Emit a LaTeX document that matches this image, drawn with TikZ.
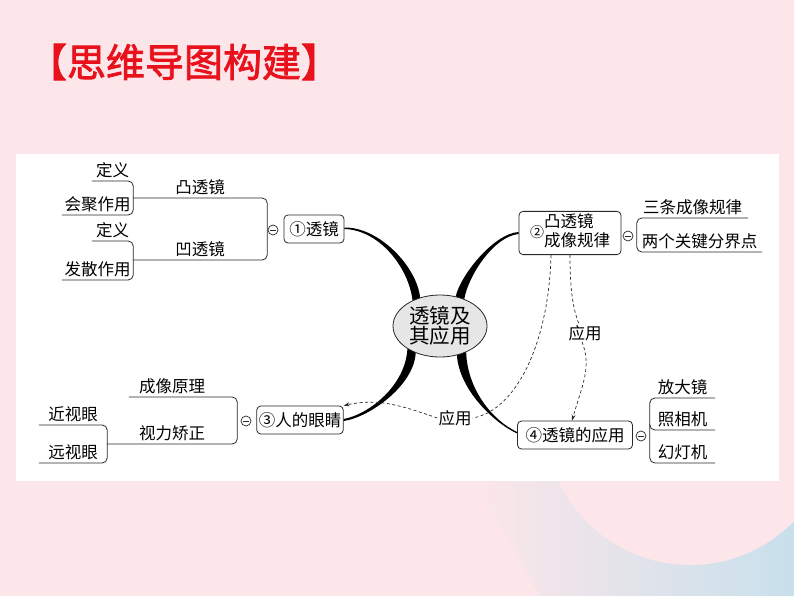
\documentclass[tikz,border=0pt]{standalone}
\usepackage{fontspec}
\setmainfont{Noto Sans CJK SC}
\newfontfamily\headfont[FakeBold=2]{Noto Sans CJK SC}
\usetikzlibrary{shapes.geometric,arrows.meta}
\definecolor{pinkbg}{RGB}{253,230,233}
\definecolor{bluebg}{RGB}{200,224,236}
\definecolor{titlered}{RGB}{232,18,28}
\definecolor{hubgray}{RGB}{230,230,230}
\definecolor{linecol}{RGB}{40,40,40}
\tikzset{
  headline/.style={text=titlered,inner sep=0pt,font={\headfont\fontsize{39}{39}\selectfont}},
  hub/.style={ellipse,draw=linecol,fill=hubgray,line width=0.8pt,minimum width=94pt,minimum height=62pt,
    inner sep=0pt,align=center,font={\fontsize{20.5}{20}\selectfont}},
  topic/.style={rectangle,rounded corners=4pt,draw=linecol,line width=0.8pt,inner sep=2pt,
    minimum height=28pt,font={\fontsize{16.5}{19}\selectfont}},
  leaf/.style={anchor=south,inner xsep=0pt,inner ysep=3pt,font={\fontsize{16.5}{19}\selectfont}},
  note/.style={inner sep=1pt,font={\fontsize{16.5}{19}\selectfont}},
  fold/.style={circle,draw=linecol,line width=0.7pt,minimum size=10pt,inner sep=0pt,
    path picture={\draw[linecol,line width=0.7pt] ([xshift=-3pt]path picture bounding box.center)
      -- ([xshift=3pt]path picture bounding box.center);}},
  branch/.style={draw=linecol,line width=0.8pt,rounded corners=5pt},
  limb/.style={fill=black},
  link/.style={draw=linecol,line width=0.7pt,dash pattern=on 3pt off 2.5pt},
  tip/.style={-{Stealth[length=6pt,width=4pt]}},
}
\begin{document}
\begin{tikzpicture}[x=1pt,y=-1pt]
  \useasboundingbox (0,0) rectangle (794,596);
  \fill[pinkbg] (0,0) rectangle (794,596);
  \shade[left color=pinkbg,right color=bluebg] (470,481) -- (794,481) -- (794,596) -- (540,596)
    .. controls (520,560) and (500,520) .. (470,481) -- cycle;
  \fill[pinkbg] (690,420) circle[radius=145];
  \fill[white] (16,154) rectangle (779,481);

  \node[headline] (head) at (184,62) {【思维导图构建】};

  \node[hub] (hub) at (440,326) {透镜及\\其应用};
  \node[topic,minimum width=60pt] (lens) at (314,229) {①透镜};
  \node[topic,minimum width=102pt,minimum height=42pt] (rule) at (570,233)
    {{\fontsize{14}{14}\selectfont ②}\begin{tabular}{@{}l@{}}凸透镜\\成像规律\end{tabular}};
  \node[topic,minimum width=86pt] (eye) at (300,420) {③人的眼睛};
  \node[topic,minimum width=115pt] (use) at (575,435) {④透镜的应用};

  \node[fold] (f1) at (273,230) {};
  \node[fold] (f2) at (628,236) {};
  \node[fold] (f3) at (246,421) {};
  \node[fold] (f4) at (641,436) {};

  \node[leaf,minimum width=134pt] (convex) at (200,198) {凸透镜};
  \node[leaf,minimum width=134pt] (concave) at (200,260) {凹透镜};
  \node[leaf,minimum width=41pt] (def1) at (112.5,181) {定义};
  \node[leaf,minimum width=71pt] (conv) at (97.5,215) {会聚作用};
  \node[leaf,minimum width=41pt] (def2) at (112.5,241) {定义};
  \node[leaf,minimum width=71pt] (div) at (97.5,280) {发散作用};

  \node[leaf,minimum width=111pt] (three) at (692.5,218) {三条成像规律};
  \node[leaf,minimum width=125pt] (two) at (699.5,252) {两个关键分界点};

  \node[leaf,minimum width=108pt] (image) at (183,397) {成像原理\hspace*{22pt}};
  \node[leaf,minimum width=130pt] (correct) at (172,444) {视力矫正};
  \node[leaf,minimum width=68pt] (myopia) at (73,425) {近视眼};
  \node[leaf,minimum width=68pt] (hyper) at (73,463) {远视眼};

  \node[leaf,minimum width=65pt] (magn) at (682.5,398) {放大镜};
  \node[leaf,minimum width=65pt] (camera) at (682.5,430) {照相机};
  \node[leaf,minimum width=65pt] (proj) at (682.5,463) {幻灯机};

  \draw[branch] (convex.south west) -- (convex.south east) -- (concave.south east) -- (concave.south west);
  \draw[branch] (def1.south west) -- (def1.south east) -- (conv.south east) -- (conv.south west);
  \draw[branch] (def2.south west) -- (def2.south east) -- (div.south east) -- (div.south west);
  \draw[branch] (three.south east) -- (three.south west) -- (two.south west) -- (two.south east);
  \draw[branch] (image.south west) -- (image.south east) -- (correct.south east) -- (correct.south west);
  \draw[branch] (myopia.south west) -- (myopia.south east) -- (hyper.south east) -- (hyper.south west);
  \draw[branch] (magn.south east) -- (magn.south west) -- (proj.south west) -- (proj.south east);
  \draw[branch] ([yshift=6pt]camera.south west) |- (camera.south east);

  \fill[limb] (lens.east) .. controls +(35,1) and +(-4,-33) .. (hub.137) -- (hub.125)
    .. controls +(-3,-30.5) and +(35,-0.5) .. ([yshift=1.5pt]lens.east) -- cycle;
  \fill[limb] (hub.62) .. controls +(4.5,-20.7) and +(-25,1.5) .. ([yshift=1pt]rule.west) -- ([yshift=-1pt]rule.west)
    .. controls +(-25,2.5) and +(4,-23.3) .. (hub.48) -- cycle;
  \fill[limb] (hub.215) .. controls +(-2,37) and +(25,-4.5) .. ([yshift=1pt]eye.east) -- ([yshift=-1pt]eye.east)
    .. controls +(25,-3.5) and +(-2,33.3) .. (hub.228) -- cycle;
  \fill[limb] (hub.315) .. controls +(1,36.6) and +(-25,-11.7) .. ([yshift=3pt]use.west) -- ([yshift=1.5pt]use.west)
    .. controls +(-25,-11.8) and +(2.3,33.5) .. (hub.300) -- cycle;

  \node[note] (use1) at (455,418) {应用};
  \node[note] (use2) at (585,333) {应用};
  \draw[link] ([xshift=-19pt]rule.south) .. controls +(-2,85) and +(45,-8) .. (use1.east);
  \draw[link,tip] (use1.west) .. controls +(-35,-12) and +(35,-8) .. (eye.north east);
  \draw[link] (rule.south) .. controls +(0,35) and +(-6,-15) .. ([xshift=-6pt]use2.north);
  \draw[link,tip] ([xshift=-3pt]use2.south) .. controls +(10,25) and +(10,-35) .. ([xshift=-3pt]use.north);
\end{tikzpicture}
\end{document}
